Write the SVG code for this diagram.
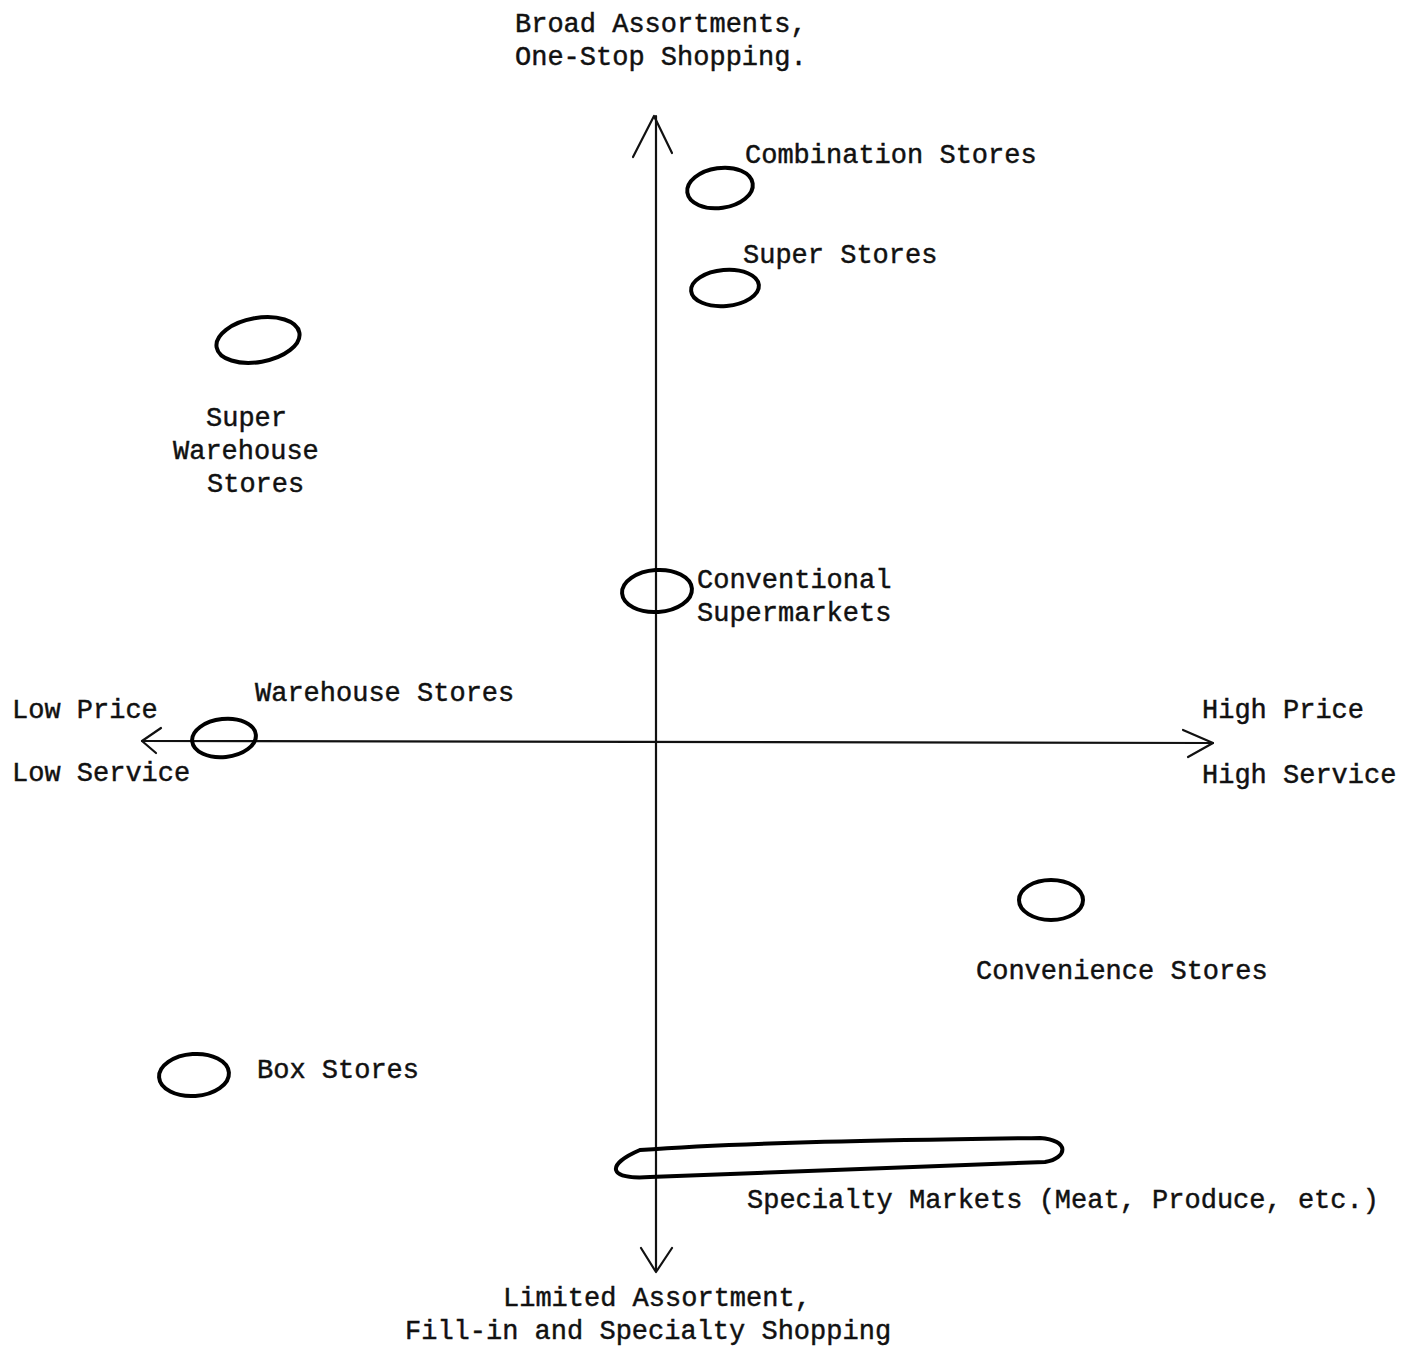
<svg xmlns="http://www.w3.org/2000/svg" width="1408" height="1347" viewBox="0 0 1408 1347">
<style>
text{font-family:"Liberation Mono","Courier New",monospace;font-size:27px;fill:#111;stroke:#111;stroke-width:0.45}
.ax{stroke:#111;stroke-width:2.2;fill:none;stroke-linecap:round;stroke-linejoin:round}
.ov{stroke:#000;stroke-width:4;fill:none}
</style>
<rect width="1408" height="1347" fill="#fff"/>
<g id="connectors">
<path class="ax" d="M656 116 L656 1271"/>
<path class="ax" d="M633 157 L654 116 L672 153"/>
<path class="ax" d="M641 1248 L656 1272 L672 1248"/>
<path class="ax" d="M142 741 L1213 743"/>
<path class="ax" d="M161 728 L142 741 L156 753"/>
<path class="ax" d="M1183 730 L1213 743 L1188 757"/>
</g>
<g id="axis-top"><text x="515" y="32">Broad Assortments,</text><text x="515" y="65">One-Stop Shopping.</text></g>
<g id="axis-bottom"><text x="503" y="1306">Limited Assortment,</text><text x="405" y="1339">Fill-in and Specialty Shopping</text></g>
<g id="axis-left"><text x="12" y="718">Low Price</text><text x="12" y="781">Low Service</text></g>
<g id="axis-right"><text x="1202" y="718">High Price</text><text x="1202" y="783">High Service</text></g>
<g id="combination-stores"><ellipse class="ov" cx="720" cy="188" rx="33" ry="20" transform="rotate(-8 720 188)"/><text x="745" y="163">Combination Stores</text></g>
<g id="super-stores"><ellipse class="ov" cx="725" cy="288" rx="34" ry="18" transform="rotate(-5 725 288)"/><text x="743" y="263">Super Stores</text></g>
<g id="super-warehouse-stores"><ellipse class="ov" cx="258" cy="340" rx="42" ry="22" transform="rotate(-10 258 340)"/><text x="206" y="426">Super</text><text x="173" y="459">Warehouse</text><text x="207" y="492">Stores</text></g>
<g id="conventional-supermarkets"><ellipse class="ov" cx="657" cy="591" rx="35" ry="21" transform="rotate(-4 657 591)"/><text x="697" y="588">Conventional</text><text x="697" y="621">Supermarkets</text></g>
<g id="warehouse-stores"><ellipse class="ov" cx="224" cy="738" rx="32" ry="19" transform="rotate(-6 224 738)"/><text x="255" y="701">Warehouse Stores</text></g>
<g id="convenience-stores"><ellipse class="ov" cx="1051" cy="900" rx="32" ry="20"/><text x="976" y="979">Convenience Stores</text></g>
<g id="box-stores"><ellipse class="ov" cx="194" cy="1075" rx="35" ry="21" transform="rotate(-4 194 1075)"/><text x="257" y="1078">Box Stores</text></g>
<g id="specialty-markets"><path class="ov" d="M640 1150 C750 1142 900 1140 1040 1138 C1070 1140 1068 1158 1045 1162 C900 1168 760 1172 650 1177 C608 1180 605 1165 640 1150 Z"/><text x="747" y="1208">Specialty Markets (Meat, Produce, etc.)</text></g>
</svg>
